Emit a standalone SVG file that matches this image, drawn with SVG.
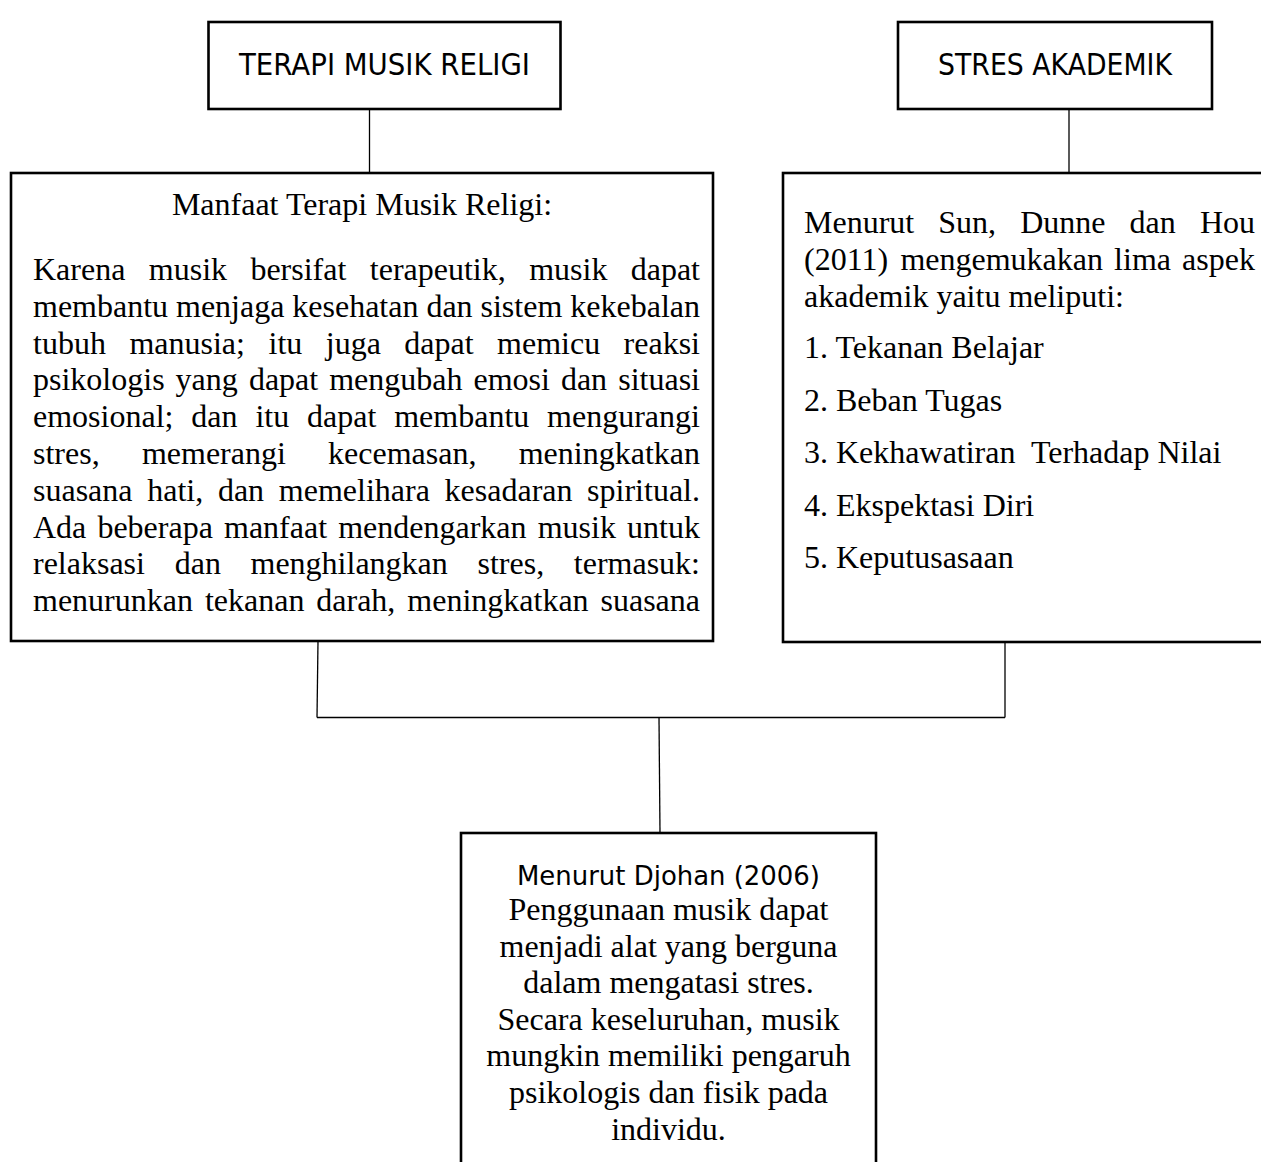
<svg xmlns="http://www.w3.org/2000/svg" width="1261" height="1162" viewBox="0 0 1261 1162">
<style>
.box{fill:#fff;stroke:#000;stroke-width:2.6}
.conn{stroke:#000;stroke-width:1.3;fill:none}
.serif{font-family:"Liberation Serif","Times New Roman",serif;font-size:32px;fill:#000}
.sans{font-family:"DejaVu Sans",Verdana,sans-serif;fill:#000}
</style>
<rect x="0" y="0" width="1261" height="1162" fill="#fff"/>
<g id="connectors" class="conn">
<line x1="369.5" y1="109" x2="369.5" y2="173"/>
<line x1="1069" y1="109" x2="1069" y2="173"/>
<line x1="318" y1="641" x2="317" y2="717.5"/>
<line x1="317" y1="717.5" x2="1005" y2="717.5"/>
<line x1="1005" y1="642" x2="1005" y2="717.5"/>
<line x1="659" y1="717.5" x2="660" y2="833"/>
</g>
<g id="node-terapi">
<rect class="box" x="208.5" y="22" width="352" height="87"/>
<text class="sans" x="384.5" y="75" font-size="30" text-anchor="middle" textLength="291" lengthAdjust="spacingAndGlyphs">TERAPI MUSIK RELIGI</text>
</g>
<g id="node-stres">
<rect class="box" x="898" y="22" width="314" height="87"/>
<text class="sans" x="1055" y="75" font-size="30" text-anchor="middle" textLength="234" lengthAdjust="spacingAndGlyphs">STRES AKADEMIK</text>
</g>
<g id="node-manfaat">
<rect class="box" x="11" y="173" width="702" height="468"/>
<text class="serif" x="362" y="215" text-anchor="middle">Manfaat Terapi Musik Religi:</text>
<text class="serif" y="280"><tspan x="33">Karena</tspan><tspan x="148.8">musik</tspan><tspan x="250.4">bersifat</tspan><tspan x="369.8">terapeutik,</tspan><tspan x="529.2">musik</tspan><tspan x="630.7">dapat</tspan></text>
<text class="serif" y="316.8"><tspan x="33">membantu</tspan><tspan x="176">menjaga</tspan><tspan x="292.3">kesehatan</tspan><tspan x="426.4">dan</tspan><tspan x="480.5">sistem</tspan><tspan x="570.3">kekebalan</tspan></text>
<text class="serif" y="353.6"><tspan x="33">tubuh</tspan><tspan x="129.4">manusia;</tspan><tspan x="268.5">itu</tspan><tspan x="325.8">juga</tspan><tspan x="404.3">dapat</tspan><tspan x="497.1">memicu</tspan><tspan x="623.6">reaksi</tspan></text>
<text class="serif" y="390.4"><tspan x="33">psikologis</tspan><tspan x="175.6">yang</tspan><tspan x="248.9">dapat</tspan><tspan x="329.2">mengubah</tspan><tspan x="473.5">emosi</tspan><tspan x="560.9">dan</tspan><tspan x="618.2">situasi</tspan></text>
<text class="serif" y="427.2"><tspan x="33">emosional;</tspan><tspan x="191.3">dan</tspan><tspan x="255.4">itu</tspan><tspan x="307.1">dapat</tspan><tspan x="394.2">membantu</tspan><tspan x="547.1">mengurangi</tspan></text>
<text class="serif" y="464"><tspan x="33">stres,</tspan><tspan x="141.9">memerangi</tspan><tspan x="328.1">kecemasan,</tspan><tspan x="518.7">meningkatkan</tspan></text>
<text class="serif" y="500.8"><tspan x="33">suasana</tspan><tspan x="147.2">hati,</tspan><tspan x="217.9">dan</tspan><tspan x="278.8">memelihara</tspan><tspan x="444.6">kesadaran</tspan><tspan x="587.1">spiritual.</tspan></text>
<text class="serif" y="537.6"><tspan x="33">Ada</tspan><tspan x="97.4">beberapa</tspan><tspan x="224">manfaat</tspan><tspan x="338.2">mendengarkan</tspan><tspan x="537.7">musik</tspan><tspan x="627.1">untuk</tspan></text>
<text class="serif" y="574.4"><tspan x="33">relaksasi</tspan><tspan x="174.7">dan</tspan><tspan x="250.5">menghilangkan</tspan><tspan x="477.5">stres,</tspan><tspan x="573.8">termasuk:</tspan></text>
<text class="serif" y="611.2"><tspan x="33">menurunkan</tspan><tspan x="204.9">tekanan</tspan><tspan x="316.3">darah,</tspan><tspan x="407.3">meningkatkan</tspan><tspan x="600.5">suasana</tspan></text>
</g>
<g id="node-aspek">
<rect class="box" x="783" y="173" width="500" height="469"/>
<text class="serif" y="233"><tspan x="804">Menurut</tspan><tspan x="938.3">Sun,</tspan><tspan x="1020.2">Dunne</tspan><tspan x="1129.6">dan</tspan><tspan x="1199.9">Hou</tspan></text>
<text class="serif" y="269.8"><tspan x="804">(2011)</tspan><tspan x="900.4">mengemukakan</tspan><tspan x="1114.1">lima</tspan><tspan x="1182.1">aspek</tspan></text>
<text class="serif" x="804" y="306.6">akademik yaitu meliputi:</text>
<text class="serif" x="804" y="358">1. Tekanan Belajar</text>
<text class="serif" x="804" y="410.5">2. Beban Tugas</text>
<text class="serif" x="804" y="463" style="white-space:pre">3. Kekhawatiran  Terhadap Nilai</text>
<text class="serif" x="804" y="515.5">4. Ekspektasi Diri</text>
<text class="serif" x="804" y="568">5. Keputusasaan</text>
</g>
<g id="node-djohan">
<rect class="box" x="461" y="833" width="415" height="360"/>
<text class="sans" x="668.5" y="885" font-size="27" text-anchor="middle" textLength="303" lengthAdjust="spacingAndGlyphs">Menurut Djohan (2006)</text>
<text class="serif" x="668.5" y="920" text-anchor="middle">Penggunaan musik dapat</text>
<text class="serif" x="668.5" y="956.6" text-anchor="middle">menjadi alat yang berguna</text>
<text class="serif" x="668.5" y="993.2" text-anchor="middle">dalam mengatasi stres.</text>
<text class="serif" x="668.5" y="1029.8" text-anchor="middle">Secara keseluruhan, musik</text>
<text class="serif" x="668.5" y="1066.4" text-anchor="middle">mungkin memiliki pengaruh</text>
<text class="serif" x="668.5" y="1103" text-anchor="middle">psikologis dan fisik pada</text>
<text class="serif" x="668.5" y="1139.6" text-anchor="middle">individu.</text>
</g>
</svg>
